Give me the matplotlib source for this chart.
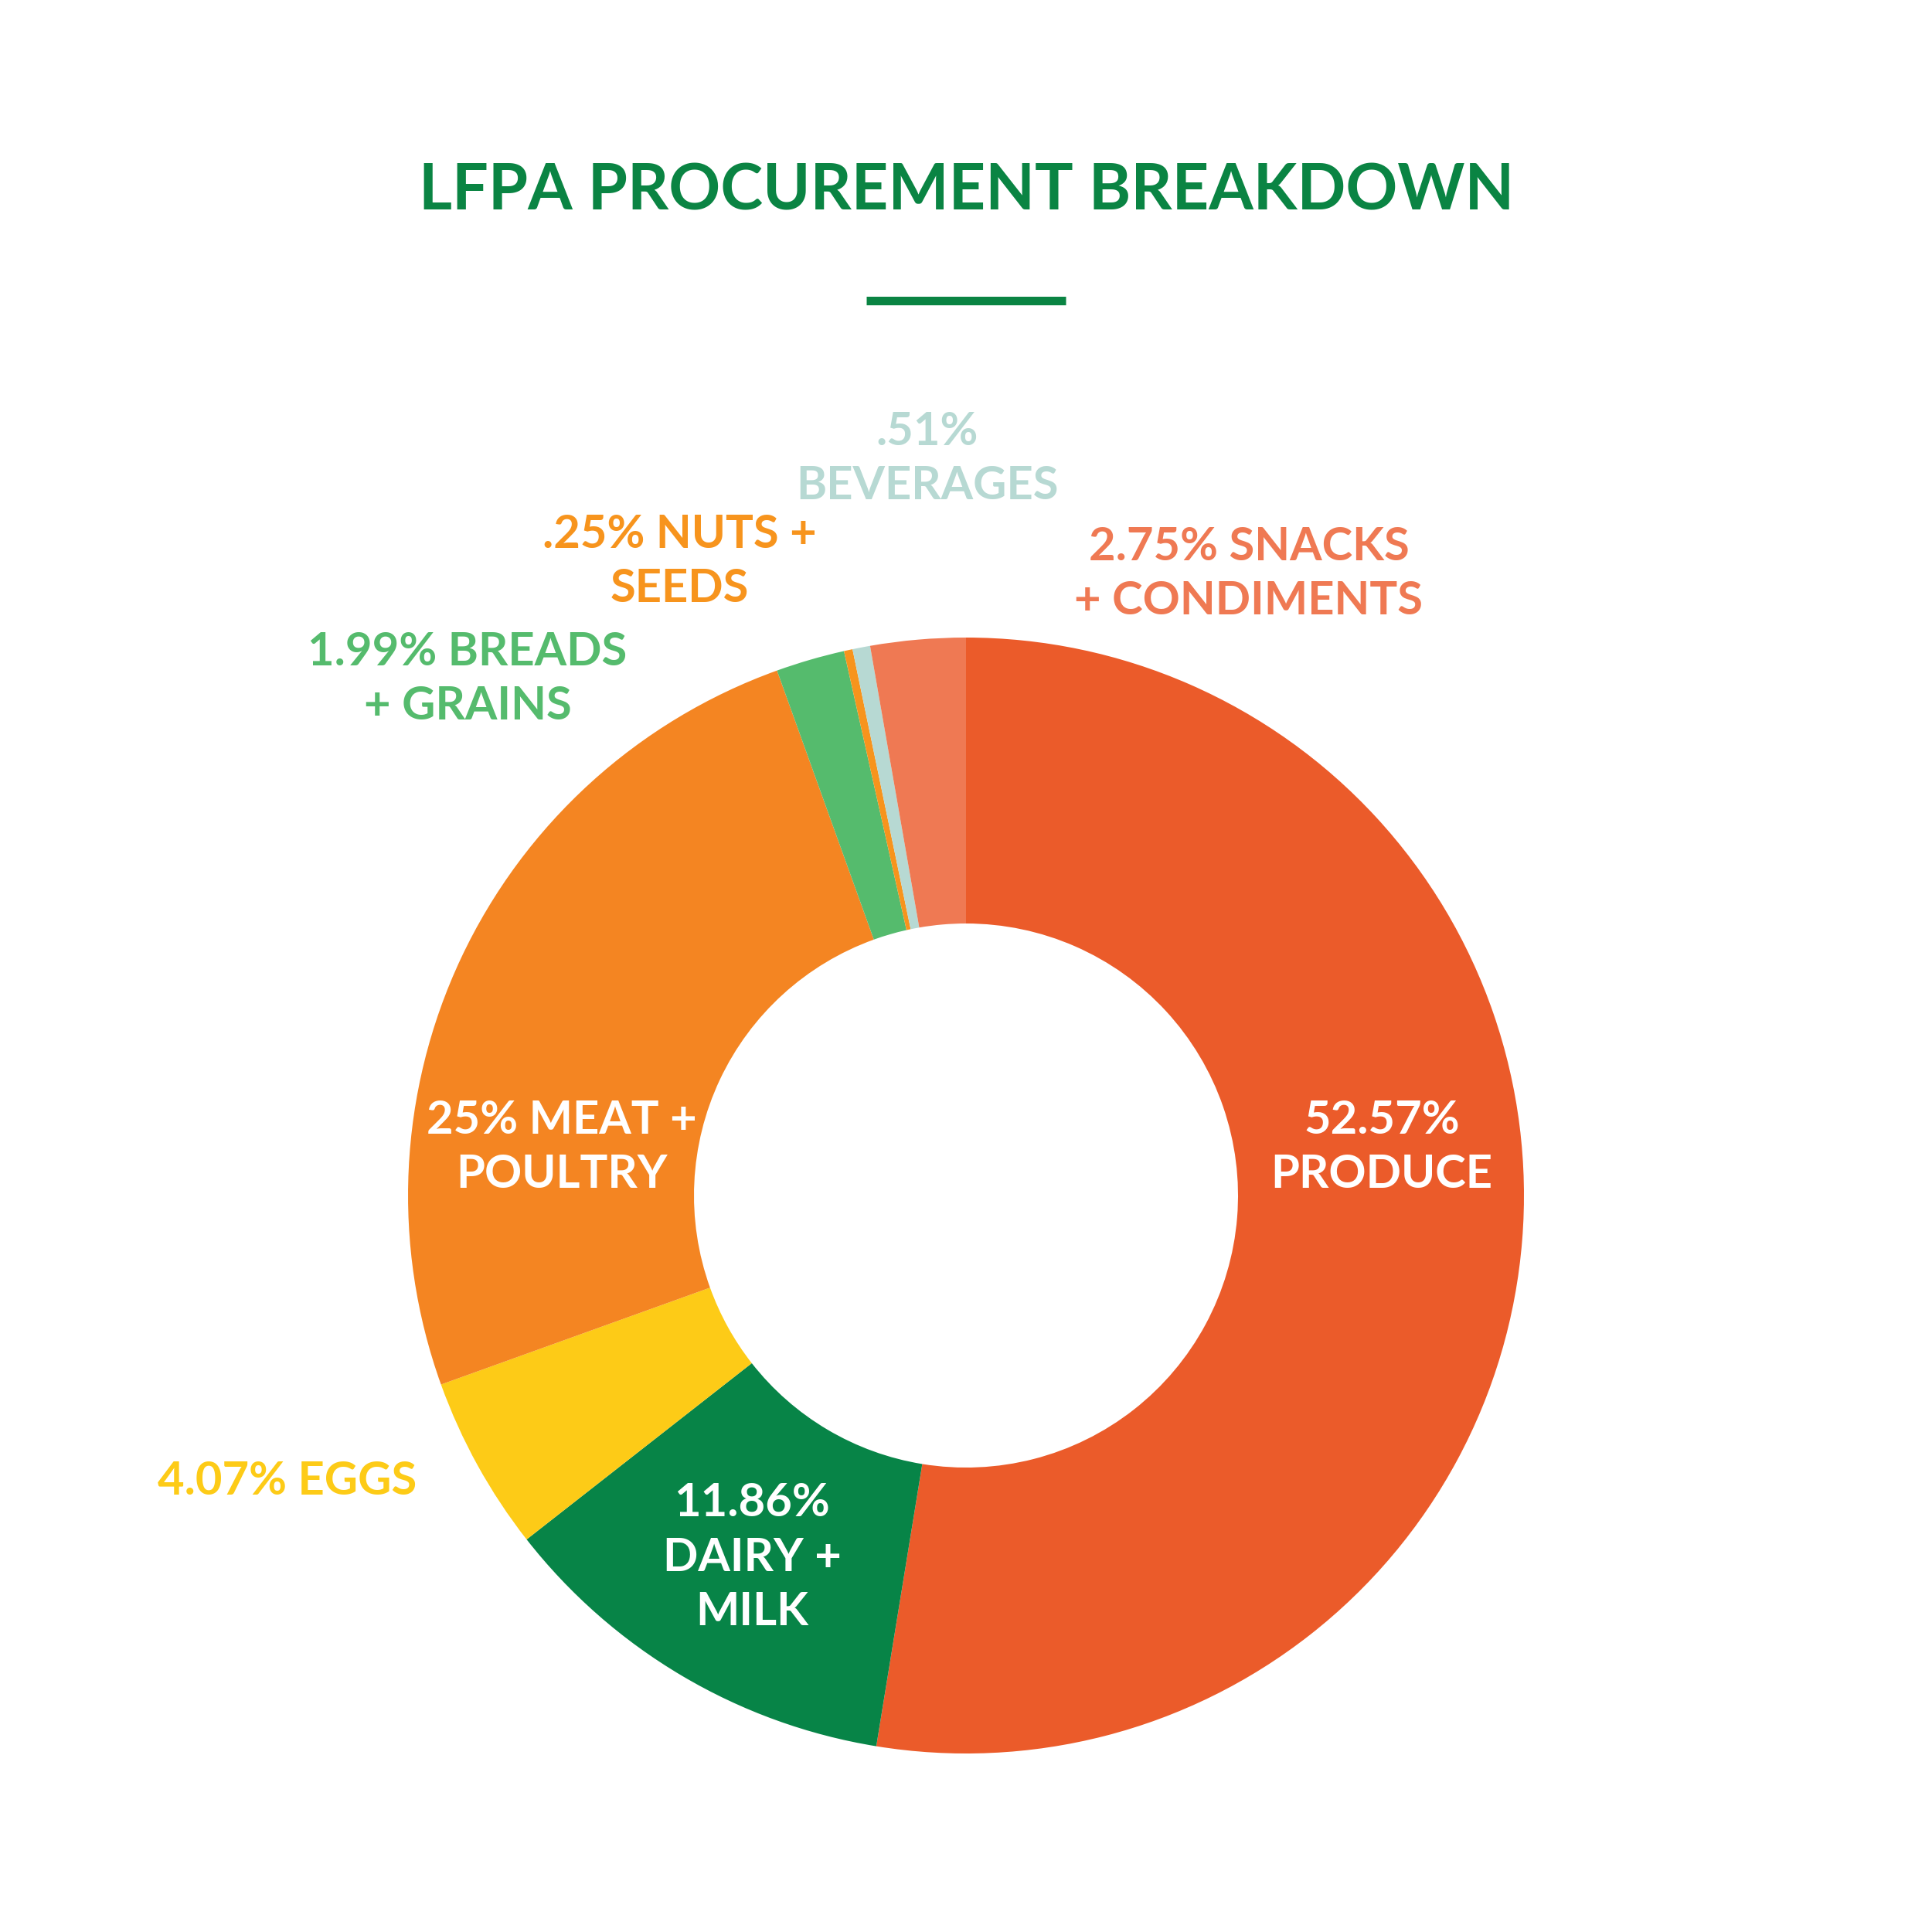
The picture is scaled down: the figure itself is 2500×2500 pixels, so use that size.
import numpy as np
import matplotlib.pyplot as plt

plt.rcParams['font.family'] = ['Lato', 'DejaVu Sans']

# slice sizes (percent), clockwise from the top, as drawn in the chart
categories = ["PRODUCE", "DAIRY + MILK", "EGGS", "MEAT + POULTRY",
              "BREADS + GRAINS", "NUTS + SEEDS", "BEVERAGES",
              "SNACKS + CONDIMENTS"]
values = [52.57, 11.86, 5.07, 25, 1.99, 0.25, 0.51, 2.75]
colors = ["#EB5B2A", "#078447", "#FDCB17", "#F48522",
          "#55BB6D", "#F7941D", "#B7D9D3", "#EF7953"]

# label text as it appears on the chart
labels = ["52.57%\nPRODUCE", "11.86%\nDAIRY +\nMILK", "4.07% EGGS",
          "25% MEAT +\nPOULTRY", "1.99% BREADS\n+ GRAINS",
          ".25% NUTS +\nSEEDS", ".51%\nBEVERAGES",
          "2.75% SNACKS\n+ CONDIMENTS"]
label_colors = ["white", "white", "#FDCB17", "white",
                "#55BB6D", "#F7941D", "#B7D9D3", "#EF7953"]
# x, last-line baseline (pixels from top)
label_pos = [(1788, 1537), (973, 2103), (372, 1934), (727, 1537),
             (605, 931), (879, 779), (1200, 646), (1616, 795)]

title_color = "#0A8443"
H = 2500

fig = plt.figure(figsize=(25, 25), dpi=100)
ax = fig.add_axes([0, 0, 1, 1])

ax.pie(values, colors=colors, startangle=90, counterclock=False,
       center=(1250, H - 1547), radius=722,
       wedgeprops=dict(width=370, linewidth=0))
ax.set_xlim(0, H)
ax.set_ylim(0, H)
ax.set_aspect('equal')
ax.axis('off')

for txt, c, (x, y) in zip(labels, label_colors, label_pos):
    ax.text(x, H - y, txt, color=c, fontsize=43, fontweight='bold',
            ha='center', va='baseline', linespacing=1.37, multialignment='center')

ax.text(1251, H - 272, "LFPA PROCUREMENT BREAKDOWN", color=title_color,
        fontsize=59.7, fontweight='bold', ha='center', va='baseline')
ax.plot([1121, 1379], [H - 388.5, H - 388.5], color=title_color,
        linewidth=8, solid_capstyle='butt')

fig.savefig("out.png", dpi=100, facecolor='white')
